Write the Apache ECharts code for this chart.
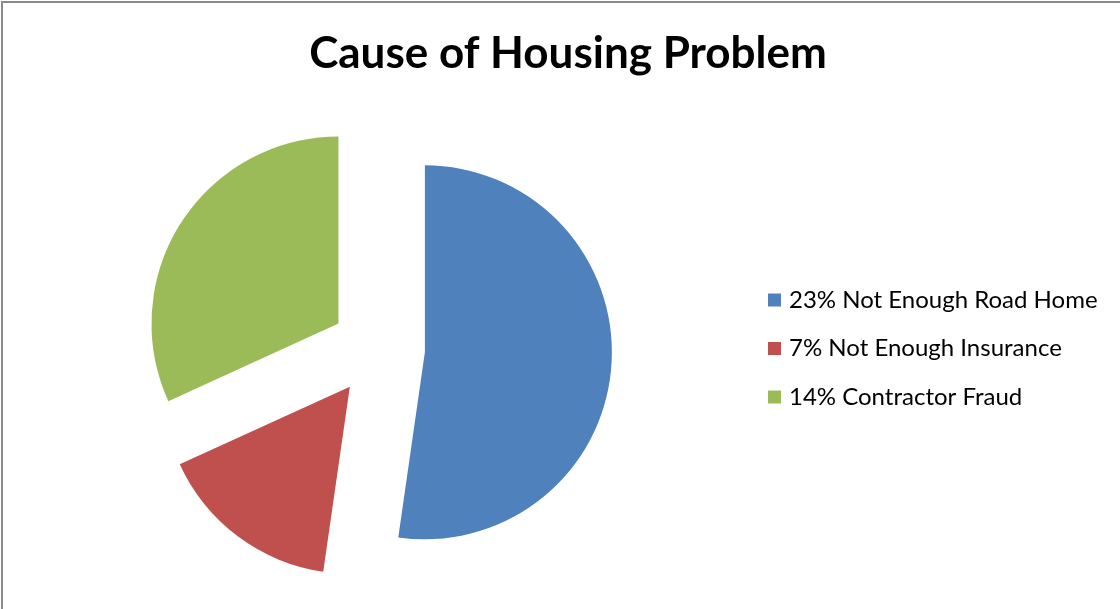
<!DOCTYPE html>
<html><head><meta charset="utf-8">
<script src="https://cdn.jsdelivr.net/npm/echarts@6/dist/echarts.min.js"></script>
<style>
html,body{margin:0;padding:0;background:#fff;}
#c{position:absolute;left:0;top:0;width:1120px;height:609px;}
#b{position:absolute;left:1px;top:1px;width:1119px;height:608px;border-left:2px solid #8a8a8a;border-top:2px solid #8a8a8a;box-sizing:border-box;pointer-events:none;}
</style></head>
<body>
<div id="c"></div><div id="b"></div>
<script>
const categories = ['23% Not Enough Road Home', '7% Not Enough Insurance', '14% Contractor Fraud'];
const values = [23, 7, 14];
const colors = ['#4F81BD', '#C0504D', '#9BBB59'];

const chart = echarts.init(document.getElementById('c'), null, {renderer: 'canvas'});
chart.setOption({
  animation: false,
  title: {
    text: 'Cause of Housing Problem',
    left: 563, top: 27, textAlign: 'center',
    textStyle: {fontFamily: 'Lato', fontWeight: 'bold', fontSize: 44, color: '#000'}
  },
  legend: {
    orient: 'vertical', left: 768, top: 287, padding: 0,
    icon: 'rect', itemWidth: 13, itemHeight: 13, itemGap: 22.5,
    selectedMode: false,
    textStyle: {fontFamily: 'Lato', fontSize: 24, color: '#000', lineHeight: 26, padding: [0, 0, 0, 3]},
    data: categories
  },
  series: [{
    type: 'pie',
    center: [378, 349], radius: 187,
    startAngle: 90, clockwise: true,
    selectedMode: 'multiple', selectedOffset: 47,
    label: {show: false}, labelLine: {show: false},
    emphasis: {disabled: true},
    itemStyle: {borderWidth: 0},
    data: categories.map((n, i) => ({name: n, value: values[i], selected: true, itemStyle: {color: colors[i]}}))
  }]
});
</script>
</body></html>
